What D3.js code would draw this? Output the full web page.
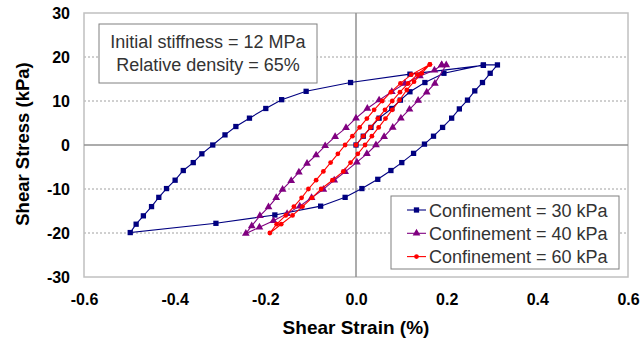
<!DOCTYPE html>
<html>
<head>
<meta charset="utf-8">
<script src="https://cdn.jsdelivr.net/npm/d3@7"></script>
<style>
  body { margin: 0; background: #fff; }
  svg { display: block; font-family: "Liberation Sans", Arial, sans-serif; }
</style>
</head>
<body>
<div id="chart"></div>
<script>
// axis ticks
var xTicks = [-0.6, -0.4, -0.2, 0.0, 0.2, 0.4, 0.6]
var yTicks = [-30, -20, -10, 0, 10, 20, 30]

var seriesNames = ["Confinement = 30 kPa", "Confinement = 40 kPa", "Confinement = 60 kPa"]

// [strain %, stress kPa]
var conf30 = [
  [0, 0], [0.016, 2.0], [0.033, 4.0], [0.051, 6.1], [0.079, 8.3], [0.098, 10.2], [0.119, 12.1],
  [0.152, 14.2], [0.194, 16.3], [0.281, 18.2], [0.312, 18.2],
  [0.296, 16.3], [0.279, 14.2], [0.262, 12.3], [0.246, 10.2], [0.228, 8.2], [0.211, 6.1],
  [0.191, 4.0], [0.171, 2.0], [0.151, 0.2], [0.127, -1.9], [0.101, -4.0], [0.077, -5.8],
  [0.048, -7.8], [0.013, -9.9], [-0.024, -11.9], [-0.078, -13.9], [-0.179, -15.9],
  [-0.309, -17.8], [-0.498, -19.9],
  [-0.485, -18.0], [-0.469, -16.1], [-0.451, -14.0], [-0.435, -11.9], [-0.418, -9.9],
  [-0.399, -8.0], [-0.381, -5.8], [-0.359, -4.0], [-0.340, -2.0], [-0.316, 0],
  [-0.289, 2.3], [-0.265, 4.2], [-0.235, 6.1], [-0.199, 8.3], [-0.164, 10.3],
  [-0.110, 12.2], [-0.012, 14.2], [0.119, 16.1], [0.281, 18.1]
]

var conf40 = [
  [0.189, 18.2], [0.199, 18.2],
  [0.174, 14.0], [0.156, 12.0], [0.137, 10.1], [0.118, 8.1], [0.099, 6.1], [0.081, 4.0],
  [0.062, 1.9], [0.044, 0], [0.024, -2.0], [0.002, -3.9], [-0.024, -6.1], [-0.048, -8.0],
  [-0.072, -10.1], [-0.098, -12.0], [-0.124, -13.9], [-0.152, -15.6], [-0.182, -17.2],
  [-0.213, -18.7], [-0.243, -20.1],
  [-0.230, -18.4], [-0.212, -16.1], [-0.193, -14.1], [-0.176, -12.0], [-0.162, -10.1],
  [-0.143, -8.1], [-0.126, -6.2], [-0.108, -4.2], [-0.088, -2.3], [-0.068, -0.2],
  [-0.046, 1.9], [-0.022, 3.9], [0.0, 6.1], [0.025, 8.3], [0.051, 10.2], [0.079, 12.1],
  [0.108, 14.0], [0.141, 15.7], [0.173, 17.0], [0.189, 18.2]
]

var conf60 = [
  [0, 0], [0.016, 2.0], [0.032, 4.0], [0.048, 6.0], [0.064, 8.0], [0.080, 10.0], [0.097, 12.0],
  [0.115, 14.0], [0.135, 16.0], [0.163, 18.3],
  [0.145, 16.3], [0.128, 14.4], [0.112, 12.5], [0.096, 10.2], [0.080, 8.0], [0.065, 6.0],
  [0.050, 4.0], [0.035, 2.0], [0.020, 0], [0.004, -2.0], [-0.012, -4.0], [-0.028, -6.0],
  [-0.052, -8.0], [-0.077, -10.0], [-0.097, -12.0], [-0.118, -14.0], [-0.140, -16.0],
  [-0.165, -18.0], [-0.190, -20.0],
  [-0.175, -18.0], [-0.155, -16.0], [-0.137, -14.0], [-0.120, -12.0], [-0.105, -10.0],
  [-0.088, -8.0], [-0.072, -6.0], [-0.056, -4.0], [-0.040, -2.0], [-0.024, 0],
  [-0.008, 2.0], [0.008, 4.0], [0.024, 6.0], [0.040, 8.0], [0.058, 10.0], [0.077, 12.0],
  [0.098, 14.0], [0.122, 16.0], [0.163, 18.3]
]

var note = ["Initial stiffness = 12 MPa", "Relative density = 65%"]

var colors = ["#000080", "#800080", "#ff0000"]
var symbols = [d3.symbolSquare, d3.symbolTriangle, d3.symbolCircle]
var symSize = [28, 26, 18]

document.addEventListener("DOMContentLoaded", function() {
  draw()
});

function draw(){
  var width = 640, height = 349
  var m = {left: 84, right: 12, top: 13, bottom: 72}

  var x = d3.scaleLinear().domain([-0.6, 0.6]).range([m.left, width - m.right])
  var y = d3.scaleLinear().domain([-30, 30]).range([height - m.bottom, m.top])

  var svg = d3.select("#chart").append("svg")
    .attr("width", width)
    .attr("height", height)

  // dotted gridlines
  svg.append("g").selectAll("line")
    .data(yTicks.filter(function(d){ return d != 0 && Math.abs(d) != 30 }))
    .enter().append("line")
      .attr("x1", x(-0.6)).attr("x2", x(0.6))
      .attr("y1", function(d){ return y(d) }).attr("y2", function(d){ return y(d) })
      .attr("stroke", "#a0a0a0")
      .attr("stroke-dasharray", "2,2")

  // plot border
  svg.append("rect")
    .attr("x", x(-0.6)).attr("y", y(30))
    .attr("width", x(0.6) - x(-0.6)).attr("height", y(-30) - y(30))
    .attr("fill", "none").attr("stroke", "#c0c0c0").attr("stroke-width", 1.5)

  // zero lines
  svg.append("line")
    .attr("x1", x(-0.6)).attr("x2", x(0.6)).attr("y1", y(0)).attr("y2", y(0))
    .attr("stroke", "#909090").attr("stroke-width", 1.5)
  svg.append("line")
    .attr("x1", x(0)).attr("x2", x(0)).attr("y1", y(30)).attr("y2", y(-30))
    .attr("stroke", "#909090").attr("stroke-width", 1.5)

  // tick labels
  var xAxis = d3.axisBottom(x).tickValues(xTicks).tickSize(0).tickPadding(0)
  var gx = svg.append("g").attr("transform", "translate(0," + (y(-30) + 22) + ")").call(xAxis)
  gx.select(".domain").remove()
  gx.selectAll("text")
    .attr("font-size", 16).attr("font-weight", "bold").attr("fill", "#000")
    .attr("font-family", "Liberation Sans, Arial, sans-serif")
    .attr("dy", "0.35em")
    .text(function(d){ return d3.format(".1f")(d).replace("−", "-") })

  var yAxis = d3.axisLeft(y).tickValues(yTicks).tickSize(0).tickPadding(0)
  var gy = svg.append("g").attr("transform", "translate(70,0)").call(yAxis)
  gy.select(".domain").remove()
  gy.selectAll("text")
    .attr("font-size", 16).attr("font-weight", "bold").attr("fill", "#000")
    .attr("font-family", "Liberation Sans, Arial, sans-serif")
    .text(function(d){ return String(d) })

  // axis titles
  svg.append("text")
    .attr("x", x(0)).attr("y", 334)
    .attr("text-anchor", "middle")
    .attr("font-size", 19).attr("font-weight", "bold")
    .text("Shear Strain (%)")
  svg.append("text")
    .attr("transform", "translate(29," + 144 + ") rotate(-90)")
    .attr("text-anchor", "middle")
    .attr("font-size", 18.5).attr("font-weight", "bold")
    .text("Shear Stress (kPa)")

  // series
  var line = d3.line()
    .x(function(d){ return x(d[0]) })
    .y(function(d){ return y(d[1]) })

  var all = [conf30, conf40, conf60]
  all.forEach(function(data, i){
    var g = svg.append("g")
    g.append("path")
      .attr("d", line(data))
      .attr("fill", "none")
      .attr("stroke", colors[i])
      .attr("stroke-width", 1.1)
    g.selectAll("path.pt")
      .data(data)
      .enter().append("path")
        .attr("class", "pt")
        .attr("transform", function(d){ return "translate(" + x(d[0]) + "," + y(d[1]) + ")" })
        .attr("d", d3.symbol().type(symbols[i]).size(symSize[i]))
        .attr("fill", colors[i])
  })

  // note box
  svg.append("rect")
    .attr("x", 99).attr("y", 24).attr("width", 218).attr("height", 59)
    .attr("fill", "#fff").attr("stroke", "#808080").attr("stroke-width", 1)
  svg.selectAll("text.note")
    .data(note)
    .enter().append("text")
      .attr("class", "note")
      .attr("x", 208)
      .attr("y", function(d, i){ return 48 + i * 23 })
      .attr("text-anchor", "middle")
      .attr("font-size", 18)
      .attr("fill", "#333")
      .text(function(d){ return d })

  // legend
  var lg = svg.append("g")
  lg.append("rect")
    .attr("x", 391).attr("y", 196).attr("width", 228).attr("height", 73)
    .attr("fill", "#fff").attr("stroke", "#808080").attr("stroke-width", 1)
  seriesNames.forEach(function(name, i){
    var ly = 210 + i * 23.3
    lg.append("line")
      .attr("x1", 407).attr("x2", 426).attr("y1", ly).attr("y2", ly)
      .attr("stroke", colors[i]).attr("stroke-width", 1.1)
    lg.append("path")
      .attr("transform", "translate(416.5," + ly + ")")
      .attr("d", d3.symbol().type(symbols[i]).size(symSize[i]))
      .attr("fill", colors[i])
    lg.append("text")
      .attr("x", 429).attr("y", ly + 6.5)
      .attr("font-size", 18).attr("fill", "#333")
      .text(name)
  })
}
</script>
</body>
</html>
